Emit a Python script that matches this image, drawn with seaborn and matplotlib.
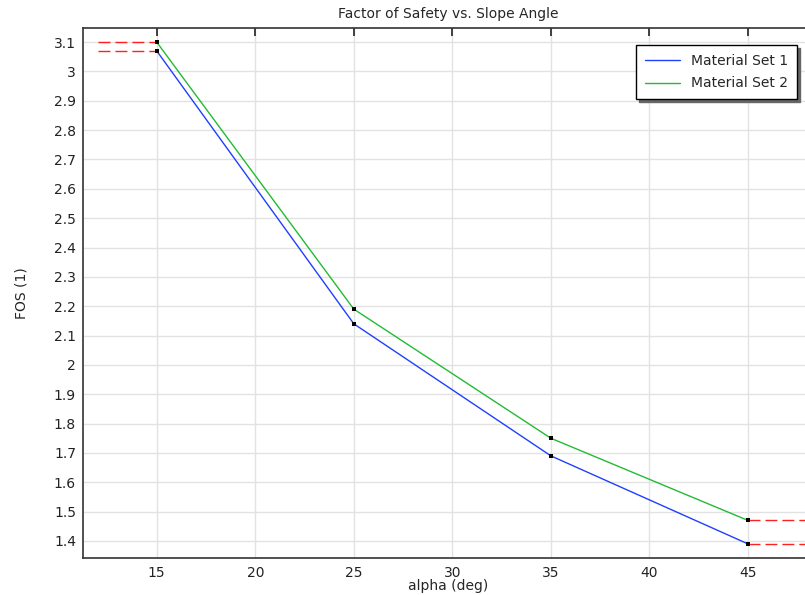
import matplotlib
matplotlib.use("Agg")
import matplotlib.pyplot as plt
import seaborn as sns
import pandas as pd
import numpy as np

alpha = [15, 25, 35, 45]
fos_set1 = [3.07, 2.14, 1.69, 1.39]
fos_set2 = [3.10, 2.19, 1.75, 1.47]
series_names = ["Material Set 1", "Material Set 2"]
colors = ["#1f3fff", "#22bb33"]
extrap_left = 12
extrap_right = 48

df = pd.DataFrame({
    "alpha": alpha * 2,
    "fos": fos_set1 + fos_set2,
    "series": [series_names[0]] * 4 + [series_names[1]] * 4,
})

sns.set_style("white")
plt.rcParams['font.family'] = ['DejaVu Sans']

fig = plt.figure(figsize=(8.05, 5.95), dpi=100)
ax = fig.add_axes([83/805, 1 - 558/595, 1 - 83/805 + 0.01, (558 - 28)/595])

sns.lineplot(data=df, x="alpha", y="fos", hue="series", palette=colors,
             linewidth=1.0, ax=ax, legend=True, zorder=3)

# constant extrapolation (dashed red)
for vals in (fos_set1, fos_set2):
    ax.plot([extrap_left, alpha[0]], [vals[0], vals[0]], color="#ff2020",
            linestyle=(0, (8.6, 3.6)), linewidth=1.0, zorder=2)
    ax.plot([alpha[-1], extrap_right], [vals[-1], vals[-1]], color="#ff2020",
            linestyle=(0, (8.6, 3.6)), linewidth=1.0, zorder=2)
    ax.scatter(alpha, vals, marker="s", s=11, color="black", zorder=5, linewidths=0)

ax.set_xlim(11.26, 48.3)
ax.set_ylim(1.342, 3.148)
ax.set_xticks([15, 20, 25, 30, 35, 40, 45])
ax.set_xticklabels(["15", "20", "25", "30", "35", "40", "45"])
yt = [1.4, 1.5, 1.6, 1.7, 1.8, 1.9, 2.0, 2.1, 2.2, 2.3, 2.4, 2.5, 2.6, 2.7, 2.8, 2.9, 3.0, 3.1]
ax.set_yticks(yt)
ax.set_yticklabels([("%g" % v) for v in yt])
ax.grid(True, color="#e2e2e2", linewidth=1.0)
ax.set_axisbelow(True)
ax.tick_params(axis="both", direction="in", length=6, width=1.2, labelsize=10,
               colors="#222222", top=True, right=False)
ax.tick_params(axis="x", pad=6)
ax.tick_params(axis="y", pad=5)
for s in ["left", "bottom", "top"]:
    ax.spines[s].set_color("#333333")
    ax.spines[s].set_linewidth(1.2)
ax.spines["right"].set_visible(False)

ax.set_xlabel("alpha (deg)", fontsize=10, labelpad=-1)
ax.set_ylabel("FOS (1)", fontsize=10, labelpad=18)
ax.set_title("Factor of Safety vs. Slope Angle", fontsize=10, pad=7)

leg = ax.legend(loc="upper right", bbox_to_anchor=(0.988, 0.981), fontsize=10,
                frameon=True, fancybox=False, shadow={"color": "#666666", "alpha": 1},
                borderpad=0.65, handlelength=2.5, labelspacing=0.6, handletextpad=0.8)
leg.get_frame().set_edgecolor("black")
leg.get_frame().set_linewidth(1.0)

fig.savefig("out.png", dpi=100)
